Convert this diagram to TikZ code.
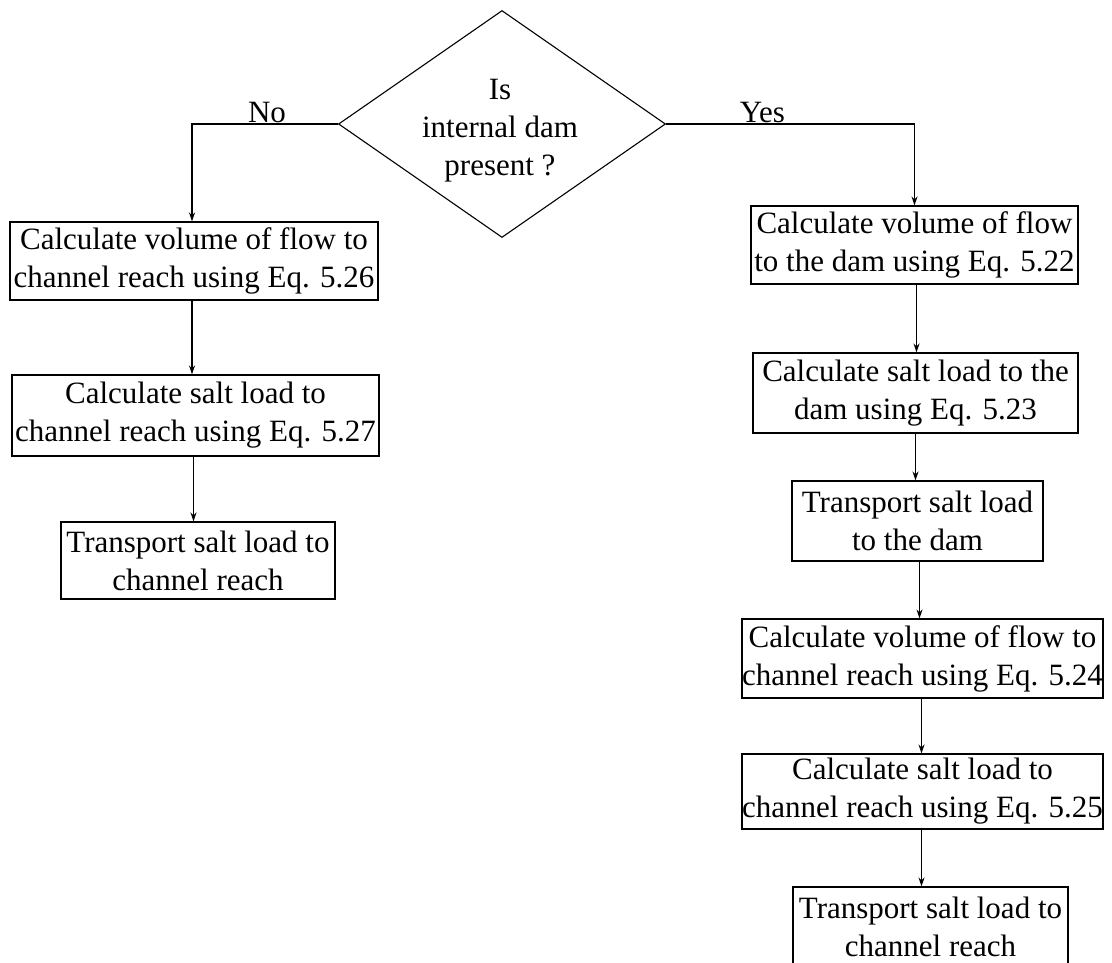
\documentclass[tikz,border=0pt]{standalone}
\usepackage{fontspec}
\setmainfont{Liberation Serif}
\usetikzlibrary{shapes.geometric,arrows.meta}
\begin{document}
\begin{tikzpicture}[x=1pt,y=-1pt,
  every node/.style={font=\fontsize{31}{38}\selectfont},
  stepbox/.style={draw, line width=1.1pt, rectangle, inner sep=0pt, align=center},
  arr/.style={line width=1.1pt, -{Stealth[length=9pt,width=6pt]}},
  lbl/.style={anchor=south, inner sep=1pt}]
\useasboundingbox (0,0) rectangle (1112,963);

% decision
\node[draw, line width=1.1pt, diamond, minimum width=327pt, minimum height=227pt, inner sep=0pt] (dec) at (502,124) {};
\node[align=center] (dectext) at (500,131) {Is\\internal dam\\present ?};

% left branch
\node[stepbox, minimum width=368pt, minimum height=78pt] (lb1) at (194,261)
  {Calculate volume of flow to\\channel reach using Eq. 5.26};
\node[stepbox, minimum width=367pt, minimum height=81pt] (lb2) at (195.5,415.5)
  {Calculate salt load to\\channel reach using Eq. 5.27};
\node[stepbox, minimum width=274pt, minimum height=77pt] (lb3) at (198,560.5)
  {Transport salt load to\\channel reach};

% right branch
\node[stepbox, minimum width=327pt, minimum height=78pt] (rb1) at (914.5,245)
  {Calculate volume of flow\\to the dam using Eq. 5.22};
\node[stepbox, minimum width=325pt, minimum height=80pt] (rb2) at (915.5,393)
  {Calculate salt load to the\\dam using Eq. 5.23};
\node[stepbox, minimum width=251pt, minimum height=80pt] (rb3) at (917.5,521)
  {Transport salt load\\to the dam};
\node[stepbox, minimum width=361pt, minimum height=79pt] (rb4) at (922.5,658.5)
  {Calculate volume of flow to\\channel reach using Eq. 5.24};
\node[stepbox, minimum width=361pt, minimum height=75pt] (rb5) at (922.5,791.5)
  {Calculate salt load to\\channel reach using Eq. 5.25};
\node[stepbox, minimum width=275pt, minimum height=80pt] (rb6) at (930.5,927)
  {Transport salt load to\\channel reach};

% connectors
\draw[arr] (dec.west) -| node[lbl, pos=0.243] (no) {No} ([xshift=-2pt]lb1.north);
\draw[arr] (dec.east) -| node[lbl, pos=0.194] (yes) {Yes} (rb1.north);

\draw[arr] ([xshift=-2pt]lb1.south) -- ([xshift=-2pt]lb1.south |- lb2.north);
\draw[arr] ([xshift=-2pt]lb2.south) -- ([xshift=-2pt]lb2.south |- lb3.north);

\draw[arr] ([xshift=2pt]rb1.south) -- ([xshift=2pt]rb1.south |- rb2.north);
\draw[arr] (rb2.south) -- (rb2.south |- rb3.north);
\draw[arr] ([xshift=2pt]rb3.south) -- ([xshift=2pt]rb3.south |- rb4.north);
\draw[arr] ([xshift=-1pt]rb4.south) -- ([xshift=-1pt]rb4.south |- rb5.north);
\draw[arr] ([xshift=-1pt]rb5.south) -- ([xshift=-1pt]rb5.south |- rb6.north);
\end{tikzpicture}
\end{document}
